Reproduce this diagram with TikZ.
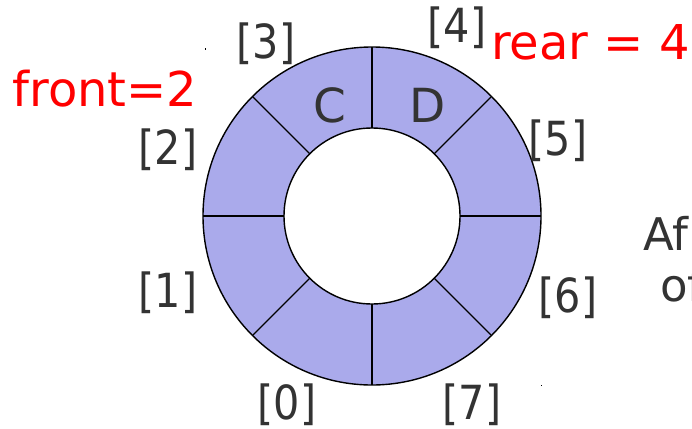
\documentclass[tikz,border=0pt]{standalone}
\usepackage{fontspec}
\setmainfont{DejaVu Sans}
\usetikzlibrary{calc}
\definecolor{ringfill}{HTML}{AAAAEB}
\definecolor{txtgray}{HTML}{333333}
\newcommand\narrowtxt[1]{\scalebox{0.88}[1]{#1}}
\begin{document}
\begin{tikzpicture}[x=1pt,y=-1pt,
  lbl/.style={text=txtgray,font=\fontsize{47}{52}\selectfont,inner sep=0pt},
  redlbl/.style={text=red,font=\fontsize{48}{52}\selectfont,inner sep=0pt},
  divider/.style={draw=black,line width=1.2pt}]
\useasboundingbox (0,0) rectangle (692,428);
\clip (0,0) rectangle (692,428);
\coordinate (ctr) at (372,216);
% ring
\fill[ringfill,even odd rule] (ctr) circle (169) (ctr) circle (88);
\draw[line width=1.4pt] (ctr) circle (169);
\draw[line width=1.4pt] (ctr) circle (88);
\foreach \a in {0,45,...,315}{
  \draw[divider] ($(ctr)+(\a:88)$) -- ($(ctr)+(\a:169)$);
}
% contents
\node[lbl] (c) at (330,105) {C};
\node[lbl] (d) at (428,105) {D};
% indices
\node[lbl] (i3) at (266,44) {\narrowtxt{[3]}};
\node[lbl] (i4) at (457,28) {\narrowtxt{[4]}};
\node[lbl] (i2) at (168,150) {\narrowtxt{[2]}};
\node[lbl] (i5) at (558,141) {\narrowtxt{[5]}};
\node[lbl] (i1) at (168,293) {\narrowtxt{[1]}};
\node[lbl] (i6) at (568,298) {\narrowtxt{[6]}};
\node[lbl] (i0) at (287,405) {\narrowtxt{[0]}};
\node[lbl] (i7) at (472,405) {\narrowtxt{[7]}};
% pointers
\node[redlbl] (front) at (105,89) {front=2};
\node[redlbl,anchor=east] (rear) at (690,42) {rear = 4};
% cut-off text
\node[lbl,anchor=base west,font=\fontsize{45}{50}\selectfont] (af) at (643,250) {Af};
\node[lbl,anchor=base west,font=\fontsize{45}{50}\selectfont] (of) at (660,301) {of};
% stray dots
\fill (204.5,48.5) rectangle (206,50);
\fill (540.5,384.5) rectangle (542,386);
\end{tikzpicture}
\end{document}
